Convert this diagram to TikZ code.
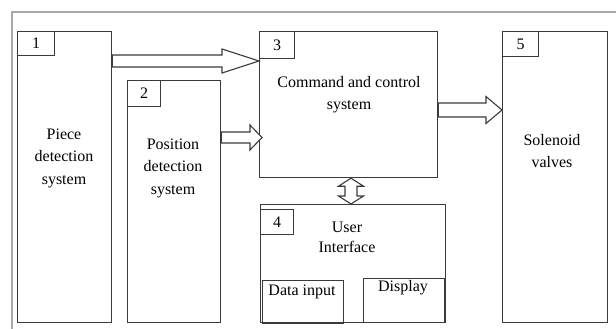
\documentclass[tikz,border=0pt]{standalone}
\usepackage{fontspec}
\setmainfont{Liberation Serif}
\usetikzlibrary{calc}
\definecolor{edge}{HTML}{3A3A3A}
\definecolor{framegray}{HTML}{A8A8A8}
\tikzset{
  box/.style={draw=edge, line width=1.2pt, rectangle, inner sep=0pt, anchor=north west},
  numbox/.style={box},
  txt/.style={align=center, inner sep=0pt, font=\fontsize{16}{22.5}\selectfont},
  blockarrow/.style={draw=edge, line width=1.1pt, fill=white, line join=miter},
}
% horizontal hollow arrow: #1 start, #2 tip, #3 half shaft, #4 half head, #5 head length
\newcommand\harrow[5]{%
  \draw[blockarrow] ($(#1)+(0,-#3)$) -- ($(#2)+(-#5,-#3)$) -- ($(#2)+(-#5,-#4)$) -- (#2)
    -- ($(#2)+(-#5,#4)$) -- ($(#2)+(-#5,#3)$) -- ($(#1)+(0,#3)$) -- cycle;}
% vertical hollow double arrow: #1 top tip, #2 bottom tip, #3 half shaft, #4 half head, #5 head length
\newcommand\vdarrow[5]{%
  \draw[blockarrow] (#1) -- ($(#1)+(#4,#5)$) -- ($(#1)+(#3,#5)$) -- ($(#2)+(#3,-#5)$)
    -- ($(#2)+(#4,-#5)$) -- (#2) -- ($(#2)+(-#4,-#5)$) -- ($(#2)+(-#3,-#5)$)
    -- ($(#1)+(-#3,#5)$) -- ($(#1)+(-#4,#5)$) -- cycle;}
\begin{document}
\begin{tikzpicture}[x=1pt,y=-1pt]
\useasboundingbox (0,0) rectangle (616,329);
% page frame (only top and left edges show)
\draw[framegray, line width=1.4pt] (12,329) -- (12,12) -- (616,12);

% 1 piece detection
\node[box, minimum width=94pt, minimum height=291pt] (b1) at (17,31) {};
\node[numbox, minimum width=37pt, minimum height=24pt] (l1) at (17,31) {};
\node[txt] (n1) at (l1.center) {1};
\node[txt] (t1) at (64,158) {Piece\\detection\\system};

% 2 position detection
\node[box, minimum width=93pt, minimum height=242pt] (b2) at (127,80) {};
\node[numbox, minimum width=33pt, minimum height=26pt] (l2) at (127,80) {};
\node[txt] (n2) at (l2.center) {2};
\node[txt] (t2) at (173,168) {Position\\detection\\system};

% 3 command and control
\node[box, minimum width=178pt, minimum height=146pt] (b3) at (259,31) {};
\node[numbox, minimum width=35pt, minimum height=27pt] (l3) at (259,31) {};
\node[txt] (n3) at (l3.center) {3};
\node[txt] (t3) at (349,94.5) {Command and control\\system};

% 4 user interface
\node[box, minimum width=185pt, minimum height=118pt] (b4) at (260,204) {};
\node[numbox, minimum width=33pt, minimum height=25pt] (l4) at (260,209) {};
\node[txt] (n4) at (l4.center) {4};
\node[txt, font=\fontsize{16}{20}\selectfont] (t4) at (347,237) {User\\Interface};
\node[box, minimum width=81pt, minimum height=43pt] (din) at (262,280) {};
\node[txt] (tdin) at (302,292) {Data input};
\node[box, minimum width=81pt, minimum height=44pt] (disp) at (363,278) {};
\node[txt] (tdisp) at (403,288) {Display};

% 5 solenoid valves
\node[box, minimum width=105pt, minimum height=291pt] (b5) at (502,31) {};
\node[numbox, minimum width=36pt, minimum height=25pt] (l5) at (502,31) {};
\node[txt] (n5) at (l5.center) {5};
\node[txt] (t5) at (552,151) {Solenoid\\valves};

% connectors
\coordinate (tip13) at ($(b3.north west)+(0,30)$);
\coordinate (src13) at (b1.east |- tip13);
\harrow{src13}{tip13}{6}{12}{37}

\coordinate (tip23) at ($(b3.west |- 0,137.5)+(3,0)$);
\coordinate (src23) at (b2.east |- tip23);
\harrow{src23}{tip23}{5.5}{12.5}{12}

\coordinate (tip35) at (b5.west |- 0,110);
\coordinate (src35) at (b3.east |- tip35);
\harrow{src35}{tip35}{7}{13.5}{16}

\coordinate (top34) at (b3.south -| 351,0);
\coordinate (bot34) at (b4.north -| 351,0);
\vdarrow{top34}{bot34}{6}{12.5}{8}
\end{tikzpicture}
\end{document}
